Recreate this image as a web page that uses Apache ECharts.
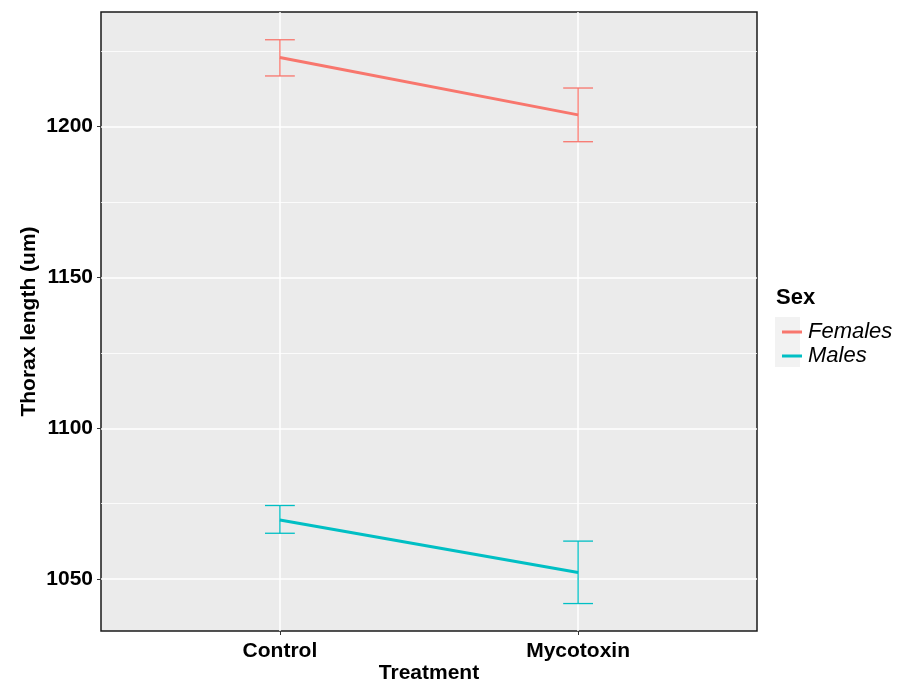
<!DOCTYPE html>
<html>
<head>
<meta charset="utf-8">
<script src="https://cdn.jsdelivr.net/npm/echarts@6/dist/echarts.min.js"></script>
<style>
html,body{margin:0;padding:0;background:#fff;}
#chart{width:898px;height:682px;}
</style>
</head>
<body>
<div id="chart"></div>
<script>
// ---- data ----
const categories = ['Control', 'Mycotoxin'];
const sexes = ['Females', 'Males'];
const femalesMean = [1222.9, 1203.9];
const femalesLow  = [1216.8, 1195.0];
const femalesHigh = [1228.8, 1212.8];
const malesMean = [1069.6, 1052.2];
const malesLow  = [1065.2, 1041.9];
const malesHigh = [1074.4, 1062.6];
const yMajorTicks = [1050, 1100, 1150, 1200];
const yMinorTicks = [1075, 1125, 1175, 1225];
const colors = ['#F8766D', '#00BFC4'];

const xPos = categories.map((c, i) => i + 1);
const FONT = '"Liberation Sans", Arial, sans-serif';

function lineData(mean) { return mean.map((v, i) => [xPos[i], v]); }
function errData(low, high) { return low.map((v, i) => [xPos[i], v, high[i]]); }

function errorSeries(name, low, high, color) {
  return {
    name: name,
    type: 'custom',
    z: 4,
    silent: true,
    data: errData(low, high),
    renderItem: function (params, api) {
      const x = api.value(0);
      const lo = api.coord([x, api.value(1)]);
      const hi = api.coord([x, api.value(2)]);
      const l = api.coord([x - 0.05, api.value(1)]);
      const r = api.coord([x + 0.05, api.value(1)]);
      const style = { stroke: color, lineWidth: 1.3, fill: null };
      return {
        type: 'group',
        children: [
          { type: 'line', shape: { x1: lo[0], y1: lo[1], x2: hi[0], y2: hi[1] }, style: style },
          { type: 'line', shape: { x1: l[0], y1: lo[1], x2: r[0], y2: lo[1] }, style: style },
          { type: 'line', shape: { x1: l[0], y1: hi[1], x2: r[0], y2: hi[1] }, style: style }
        ]
      };
    }
  };
}

const chart = echarts.init(document.getElementById('chart'));
const option = {
  animation: false,
  backgroundColor: '#ffffff',
  grid: {
    left: 101, right: 141, top: 12, bottom: 51,
    containLabel: false,
    outerBoundsMode: 'none',
    show: true, backgroundColor: '#EBEBEB', borderColor: '#1a1a1a', borderWidth: 1.5
  },
  legend: {
    data: sexes.map((s, i) => ({ name: s, itemStyle: { color: colors[i] } })),
    orient: 'vertical',
    left: 777, top: 316,
    itemWidth: 20, itemHeight: 3,
    itemGap: 2,
    icon: 'rect',
    textStyle: { fontFamily: FONT, fontStyle: 'italic', fontSize: 22, color: '#000', padding: [0, 0, 0, 1] }
  },
  graphic: [
    { type: 'rect', left: 775, top: 317, shape: { width: 25, height: 50 }, style: { fill: '#F2F2F2' }, z: -1 },
    { type: 'text', left: 776, top: 287, style: { text: 'Sex', font: 'bold 22px ' + FONT, fill: '#000' } }
  ],
  xAxis: {
    type: 'value',
    min: 0.4, max: 2.6,
    name: 'Treatment',
    nameLocation: 'middle',
    nameGap: 32,
    nameMoveOverlap: false,
    nameTextStyle: { fontFamily: FONT, fontWeight: 'bold', fontSize: 21, color: '#000', verticalAlign: 'top' },
    axisLine: { show: false },
    axisTick: { show: true, customValues: xPos, length: 4, lineStyle: { color: '#333', width: 1 } },
    axisLabel: {
      customValues: xPos, margin: 10,
      formatter: v => categories[Math.round(v) - 1] || '',
      fontFamily: FONT, fontWeight: 'bold', fontSize: 21, color: '#000'
    },
    splitLine: { show: false }
  },
  yAxis: {
    type: 'value',
    min: 1032.8, max: 1238.0,
    name: 'Thorax length (um)',
    nameLocation: 'middle',
    nameGap: 61,
    nameMoveOverlap: false,
    nameTextStyle: { fontFamily: FONT, fontWeight: 'bold', fontSize: 21, color: '#000' },
    axisLine: { show: false },
    axisTick: { show: true, customValues: yMajorTicks, length: 4, lineStyle: { color: '#333', width: 1 } },
    axisLabel: {
      customValues: yMajorTicks, margin: 8,
      formatter: v => String(v),
      fontFamily: FONT, fontWeight: 'bold', fontSize: 21, color: '#000'
    },
    splitLine: { show: false }
  },
  series: [
    {
      name: '__grid',
      type: 'line',
      data: [],
      z: 1,
      silent: true,
      markLine: {
        silent: true,
        z: 1,
        symbol: 'none',
        label: { show: false },
        animation: false,
        data: [
          ...yMinorTicks.map(v => ({ yAxis: v, lineStyle: { color: '#ffffff', width: 0.8, type: 'solid' } })),
          ...yMajorTicks.map(v => ({ yAxis: v, lineStyle: { color: '#ffffff', width: 1.5, type: 'solid' } })),
          ...xPos.map(v => ({ xAxis: v, lineStyle: { color: '#ffffff', width: 1.5, type: 'solid' } }))
        ]
      }
    },
    {
      name: sexes[0], type: 'line', data: lineData(femalesMean), z: 3,
      symbol: 'none', lineStyle: { color: colors[0], width: 3 }, itemStyle: { color: colors[0] }
    },
    {
      name: sexes[1], type: 'line', data: lineData(malesMean), z: 3,
      symbol: 'none', lineStyle: { color: colors[1], width: 3 }, itemStyle: { color: colors[1] }
    },
    errorSeries(sexes[0] + ' SE', femalesLow, femalesHigh, colors[0]),
    errorSeries(sexes[1] + ' SE', malesLow, malesHigh, colors[1])
  ]
};
chart.setOption(option);
</script>
</body>
</html>
